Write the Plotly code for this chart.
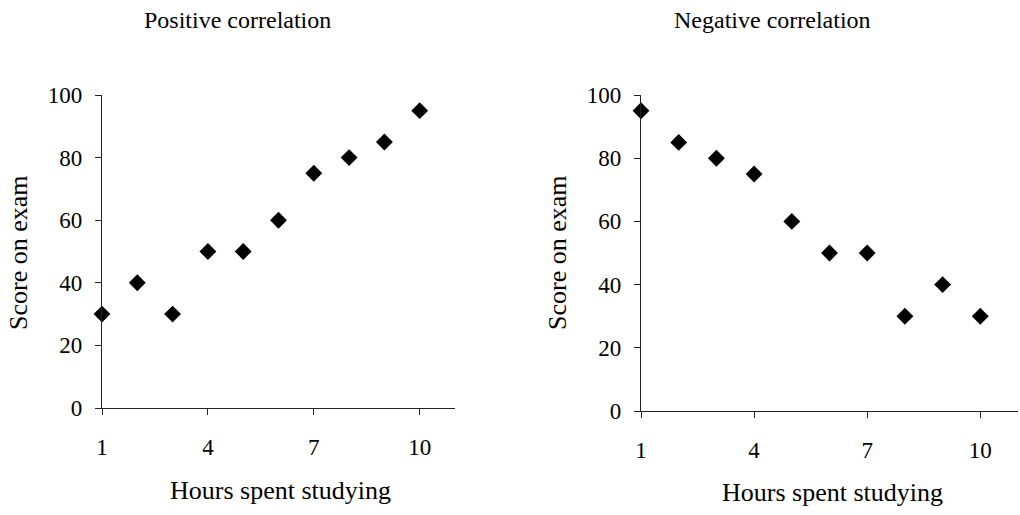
import plotly.graph_objects as go

hours = [1, 2, 3, 4, 5, 6, 7, 8, 9, 10]
score_positive = [30, 40, 30, 50, 50, 60, 75, 80, 85, 95]
score_negative = [95, 85, 80, 75, 60, 50, 50, 30, 40, 30]
x_ticks = [1, 4, 7, 10]
y_ticks = [0, 20, 40, 60, 80, 100]

W, H = 1020, 515
FONT = "Liberation Serif, Times New Roman, serif"


def px_x(p):
    return p / W


def px_y(p):
    return 1 - p / H


fig = go.Figure()

marker = dict(symbol="diamond", size=13, color="black", line=dict(width=0))
fig.add_trace(go.Scatter(x=hours, y=score_positive, mode="markers",
                         marker=marker, xaxis="x", yaxis="y", showlegend=False,
                         cliponaxis=False))
fig.add_trace(go.Scatter(x=hours, y=score_negative, mode="markers",
                         marker=marker, xaxis="x2", yaxis="y2", showlegend=False,
                         cliponaxis=False))

axis_common = dict(
    showgrid=False, zeroline=False, showline=True, linecolor="#222",
    linewidth=1.2, ticks="outside", ticklen=6, tickcolor="#222",
    tickfont=dict(family=FONT, size=23, color="black"),
    fixedrange=True, automargin=False,
)

fig.update_layout(
    width=W, height=H,
    margin=dict(l=0, r=0, t=0, b=0),
    paper_bgcolor="white", plot_bgcolor="white",
    xaxis=dict(axis_common, domain=[px_x(102), px_x(455)], range=[1, 11],
               tickvals=x_ticks, anchor="y", ticklabelstandoff=12),
    yaxis=dict(axis_common, domain=[px_y(408), px_y(95)], range=[0, 100],
               tickvals=y_ticks, anchor="x", ticklabelstandoff=8),
    xaxis2=dict(axis_common, domain=[px_x(641), px_x(1018)], range=[1, 11],
                tickvals=x_ticks, anchor="y2", ticklabelstandoff=12),
    yaxis2=dict(axis_common, domain=[px_y(411), px_y(95)], range=[0, 100],
                tickvals=y_ticks, anchor="x2", ticklabelstandoff=8),
)

text_font = dict(family=FONT, size=26, color="black")
title_font = dict(family=FONT, size=24, color="black")
annotations = [
    dict(text="Positive correlation", x=px_x(237), y=px_y(20), font=title_font),
    dict(text="Negative correlation", x=px_x(772), y=px_y(20), font=title_font),
    dict(text="Hours spent studying", x=px_x(280), y=px_y(490), font=text_font),
    dict(text="Hours spent studying", x=px_x(832), y=px_y(492), font=text_font),
    dict(text="Score on exam", x=px_x(18), y=px_y(253), font=text_font, textangle=-90),
    dict(text="Score on exam", x=px_x(557), y=px_y(253), font=text_font, textangle=-90),
]
for a in annotations:
    fig.add_annotation(xref="paper", yref="paper", showarrow=False,
                       xanchor="center", yanchor="middle", **a)

# drop the default 8px body margin so the figure sits at the window origin
fig.write_html(
    "out.html",
    config={"displayModeBar": False},
    post_script="document.body.style.margin='0';document.body.style.overflow='hidden';",
)
